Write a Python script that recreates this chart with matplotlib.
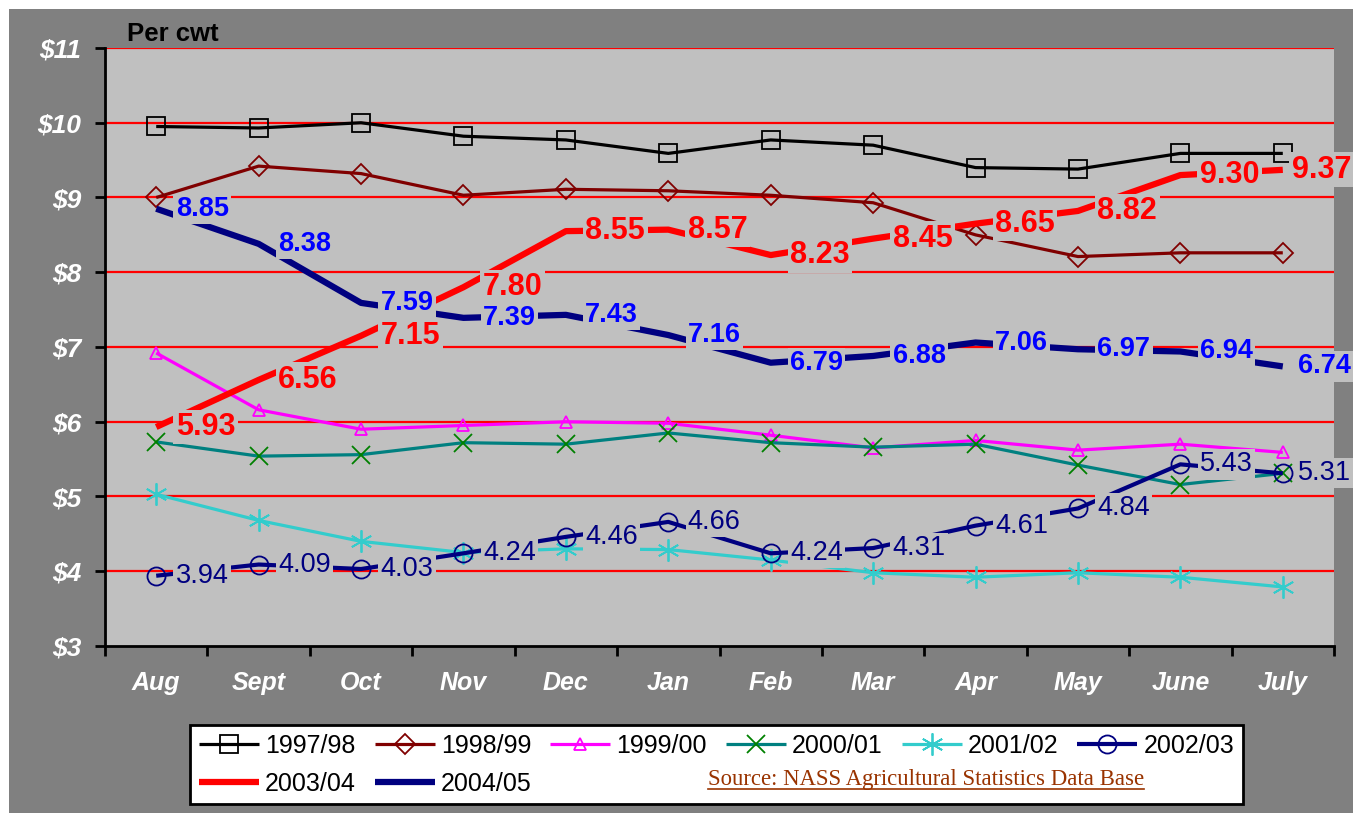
import matplotlib
matplotlib.use("Agg")
import matplotlib.pyplot as plt
from matplotlib.lines import Line2D
from matplotlib.patches import Rectangle

months = ["Aug", "Sept", "Oct", "Nov", "Dec", "Jan", "Feb", "Mar", "Apr", "May", "June", "July"]
y_ticks = [3, 4, 5, 6, 7, 8, 9, 10, 11]
y_tick_labels = ["$3", "$4", "$5", "$6", "$7", "$8", "$9", "$10", "$11"]

s1997 = [9.95, 9.93, 10.00, 9.82, 9.77, 9.59, 9.77, 9.70, 9.40, 9.38, 9.59, 9.59]
s1998 = [9.00, 9.42, 9.32, 9.03, 9.11, 9.09, 9.03, 8.93, 8.50, 8.21, 8.26, 8.26]
s1999 = [6.92, 6.16, 5.90, 5.95, 6.00, 5.98, 5.82, 5.65, 5.75, 5.62, 5.70, 5.59]
s2000 = [5.73, 5.54, 5.56, 5.72, 5.70, 5.85, 5.72, 5.66, 5.70, 5.42, 5.16, 5.31]
s2001 = [5.03, 4.68, 4.40, 4.25, 4.30, 4.29, 4.15, 3.98, 3.92, 3.98, 3.92, 3.79]
s2002 = [3.94, 4.09, 4.03, 4.24, 4.46, 4.66, 4.24, 4.31, 4.61, 4.84, 5.43, 5.31]
s2003 = [5.93, 6.56, 7.15, 7.80, 8.55, 8.57, 8.23, 8.45, 8.65, 8.82, 9.30, 9.37]
s2004 = [8.85, 8.38, 7.59, 7.39, 7.43, 7.16, 6.79, 6.88, 7.06, 6.97, 6.94, 6.74]

W, H = 1353, 813
fig = plt.figure(figsize=(W / 100, H / 100), dpi=100)
fig.patch.set_facecolor("white")
fig.patches.append(Rectangle((9 / W, 0), 1, (H - 9) / H, transform=fig.transFigure,
                             facecolor="#808080", edgecolor="none", zorder=-10))

ax = fig.add_axes([105 / W, 1 - 646 / H, 1229 / W, 598 / H])
ax.set_zorder(1)
ax.set_facecolor("#C0C0C0")
ax.set_xlim(0, 12)
ax.set_ylim(3, 11)

for v in y_ticks[1:]:
    ax.axhline(v, color="#FF0000", lw=1.6, zorder=1)

x = [i + 0.5 for i in range(len(months))]

FONT = "Liberation Sans"

def plot(vals, label, color, lw, marker=None, mec=None, ms=12, mew=1.3, z=3):
    ln, = ax.plot(x, vals, color=color, lw=lw, marker=marker, ms=ms,
                  mfc="none", mec=mec if mec else color, mew=mew, label=label,
                  zorder=z, solid_joinstyle="round", solid_capstyle="butt")
    return ln

h97 = plot(s1997, "1997/98", "black", 2.3, "s", ms=12.5)
h98 = plot(s1998, "1998/99", "#800000", 2.3, "D", ms=10.5)
h99 = plot(s1999, "1999/00", "#FF00FF", 2.3, "^", ms=9)
h00 = plot(s2000, "2000/01", "#008080", 2.3, "x", mec="#008000", ms=13)
h01 = plot(s2001, "2001/02", "#33CCCC", 2.3, (6, 2, 0), ms=16)
h02 = plot(s2002, "2002/03", "#000080", 3.0, "o", ms=13)
h03 = plot(s2003, "2003/04", "#FF0000", 4.5)
h04 = plot(s2004, "2004/05", "#000080", 4.5)

def labels(vals, color, weight, size, last_off):
    n = len(vals)
    for i, (xi, v) in enumerate(zip(x, vals)):
        off = last_off if i == n - 1 else 14
        ax.annotate(f"{v:.2f}", (xi, v), xytext=(off, 0), textcoords="offset points",
                    ha="left", va="center", color=color, fontsize=size,
                    fontweight=weight, family=FONT, zorder=10, annotation_clip=False,
                    bbox=dict(boxstyle="square,pad=0.08", fc="#C0C0C0", ec="none"))

labels(s2002, "#000080", "normal", 19.5, 11)
labels(s2003, "#FF0000", "bold", 22, 6.5)
labels(s2004, "#0000FF", "bold", 19.5, 11)

# axes styling
for sp in ["top", "right"]:
    ax.spines[sp].set_visible(False)
for sp in ["left", "bottom"]:
    ax.spines[sp].set_linewidth(2)
    ax.spines[sp].set_color("black")
    ax.spines[sp].set_zorder(5)

ax.set_yticks(y_ticks)
ax.set_yticklabels(y_tick_labels)
ax.tick_params(axis="y", length=7, width=2, pad=10, colors="black", labelcolor="white")
ax.set_xticks(range(13))
ax.set_xticklabels([])
ax.tick_params(axis="x", which="major", length=7, width=2, direction="out")
ax.set_xticks(x, minor=True)
ax.set_xticklabels(months, minor=True)
ax.tick_params(axis="x", which="minor", length=0, pad=18, labelcolor="white")
for t in ax.get_yticklabels():
    t.set_fontproperties(dict(family=FONT, weight="bold", style="italic", size=19))
for t in ax.get_xticklabels(minor=True):
    t.set_fontproperties(dict(family=FONT, weight="bold", style="italic", size=18))

fig.text(127 / W, 1 - 34 / H, "Per cwt", family=FONT, fontweight="bold", fontsize=18.5,
         color="black", ha="left", va="center")

order = [h97, h03, h98, h04, h99, h00, h01, h02]
leg = fig.legend(handles=order, labels=[l.get_label() for l in order], ncol=6,
                 loc="upper left", bbox_to_anchor=(190 / W, 1 - 725 / H),
                 prop=dict(family=FONT, size=18), frameon=True, fancybox=False,
                 edgecolor="black", facecolor="white", framealpha=1,
                 handlelength=2.4, handletextpad=0.25, columnspacing=0.75,
                 labelspacing=0.55, borderpad=0.35, borderaxespad=0)
leg.get_frame().set_linewidth(2)
leg.set_zorder(20)

src = fig.text(708 / W, 1 - 779 / H, "Source: NASS Agricultural Statistics Data Base",
               family="Liberation Serif", fontsize=16.4, color="#993300", ha="left",
               va="center", zorder=30)
fig.canvas.draw()
bb = src.get_window_extent()
fig.add_artist(Line2D([bb.x0 / W, bb.x1 / W], [(bb.y0 + 1) / H, (bb.y0 + 1) / H],
                      transform=fig.transFigure, color="#993300", lw=1.2, zorder=30))

fig.savefig("out.png", dpi=100, facecolor=fig.get_facecolor())
